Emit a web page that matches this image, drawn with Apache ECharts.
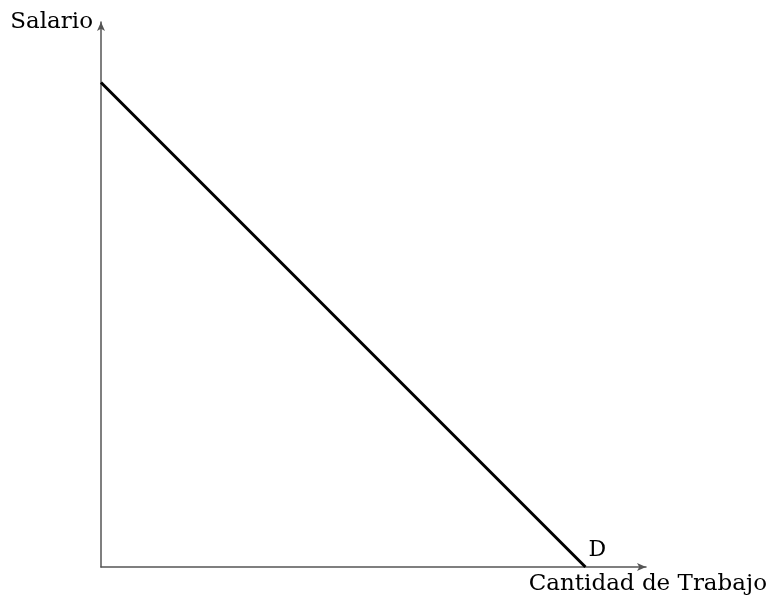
<!DOCTYPE html>
<html>
<head>
<meta charset="utf-8">
<script src="https://cdn.jsdelivr.net/npm/echarts@6/dist/echarts.min.js"></script>
<style>
  html, body { margin: 0; padding: 0; background: #fff; }
  #main { width: 773px; height: 603px; }
</style>
</head>
<body>
<div id="main"></div>
<script>
// 需求曲线 D
const demandX = [0, 8];
const demandY = [8, 0];
const curveName = 'D';
const yName = 'Salario';
const xName = 'Cantidad de Trabajo';
const axisMax = 9;

const font = 'DejaVu Serif';
const chart = echarts.init(document.getElementById('main'));

let points = [];
for (let i = 0; i < demandX.length; i++) {
  points.push([demandX[i], demandY[i]]);
}
// 最后一个点加标签
points[points.length - 1] = {
  value: points[points.length - 1],
  label: {
    show: true,
    formatter: curveName,
    position: 'right',
    offset: [-2, -17],
    color: '#000',
    fontFamily: font,
    fontSize: 22
  }
};

const axisLine = {
  show: true,
  symbol: ['none', 'arrow'],
  symbolSize: [6, 9],
  lineStyle: { color: '#555', width: 1.5 }
};

chart.setOption({
  animation: false,
  grid: { left: 101, top: 22, right: 127, bottom: 36 },
  xAxis: {
    type: 'value', min: 0, max: axisMax,
    axisLine: axisLine,
    axisTick: { show: false },
    axisLabel: { show: false },
    splitLine: { show: false }
  },
  yAxis: {
    type: 'value', min: 0, max: axisMax,
    axisLine: axisLine,
    axisTick: { show: false },
    axisLabel: { show: false },
    splitLine: { show: false }
  },
  graphic: [
    {
      type: 'text', right: 680, top: 11,
      style: { text: yName, fontFamily: font, fontSize: 23, fill: '#000' }
    },
    {
      type: 'text', right: 6, top: 573,
      style: { text: xName, fontFamily: font, fontSize: 23, fill: '#000' }
    }
  ],
  series: [{
    type: 'line',
    data: points,
    symbol: 'circle',
    symbolSize: 0,
    showSymbol: true,
    lineStyle: { color: '#000', width: 3 },
    label: { show: false }
  }]
});
</script>
</body>
</html>
